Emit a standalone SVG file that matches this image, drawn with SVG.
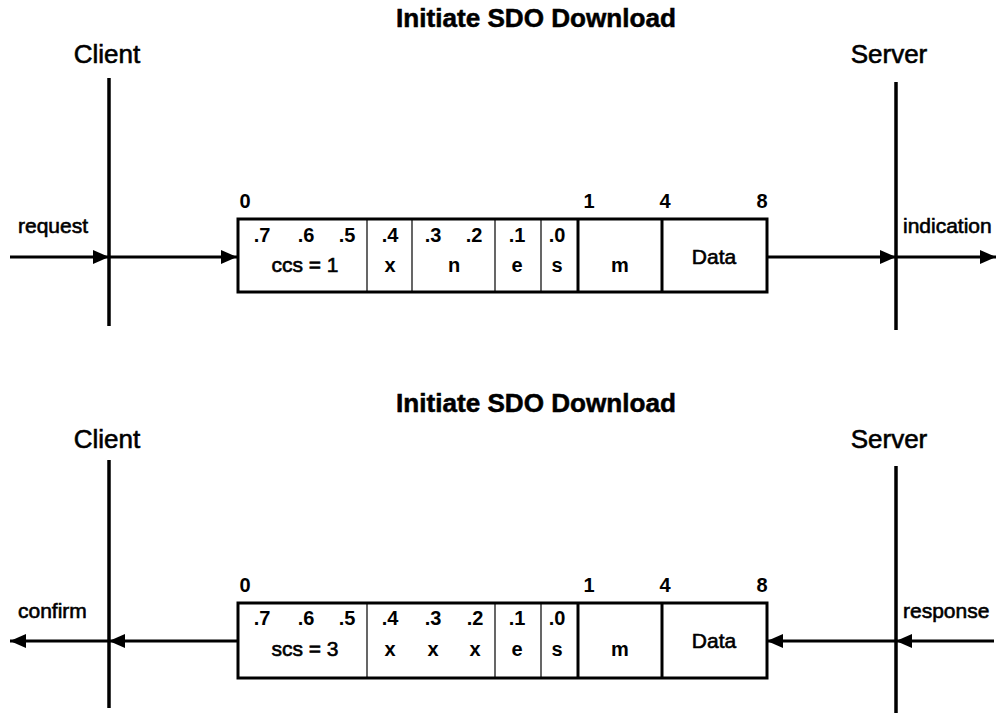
<svg xmlns="http://www.w3.org/2000/svg" width="1000" height="713" viewBox="0 0 1000 713">
<style>
text{font-family:"Liberation Sans",Arial,sans-serif;fill:#000}
.title{font-size:25px;font-weight:bold;text-anchor:middle;stroke:#000;stroke-width:0.5}
.party{font-size:26px;text-anchor:middle;stroke:#000;stroke-width:0.6}
.side{font-size:21px;stroke:#000;stroke-width:0.6}
.f{font-size:20px;font-weight:bold;text-anchor:middle}
.d{font-size:21px;text-anchor:middle;stroke:#000;stroke-width:0.6}
.life{stroke:#000;stroke-width:3.5;fill:none}
.box{stroke:#000;stroke-width:3;fill:#fff}
.thin{stroke:#000;stroke-width:1.2}
.thick{stroke:#000;stroke-width:3}
.arr{stroke:#000;stroke-width:3;fill:none}
</style>
<defs>
<marker id="ah" viewBox="0 0 16 14" refX="16" refY="7" markerWidth="16" markerHeight="14" markerUnits="userSpaceOnUse" orient="auto">
<path d="M0,0 L16,7 L0,14 Z" fill="#000"/>
</marker>
</defs>

<g id="top-title"><text class="title" x="536" y="27" textLength="280" lengthAdjust="spacingAndGlyphs">Initiate SDO Download</text></g>
<g id="top-client"><text class="party" x="107" y="63">Client</text><line class="life" x1="109" y1="78" x2="109" y2="326"/></g>
<g id="top-server"><text class="party" x="889" y="63">Server</text><line class="life" x1="896" y1="82" x2="896" y2="330"/></g>

<g id="top-frame">
<rect class="box" x="238" y="219" width="529" height="73"/>
<line class="thin" x1="367" y1="219" x2="367" y2="292"/>
<line class="thin" x1="412" y1="219" x2="412" y2="292"/>
<line class="thin" x1="495" y1="219" x2="495" y2="292"/>
<line class="thin" x1="541" y1="219" x2="541" y2="292"/>
<line class="thick" x1="578" y1="219" x2="578" y2="292"/>
<line class="thick" x1="662" y1="219" x2="662" y2="292"/>
<text class="f" x="245" y="208">0</text>
<text class="f" x="589" y="208">1</text>
<text class="f" x="665" y="208">4</text>
<text class="f" x="762" y="208">8</text>
<text class="f" x="262" y="242">.7</text>
<text class="f" x="306" y="242">.6</text>
<text class="f" x="347" y="242">.5</text>
<text class="f" x="390" y="242">.4</text>
<text class="f" x="433" y="242">.3</text>
<text class="f" x="474" y="242">.2</text>
<text class="f" x="517" y="242">.1</text>
<text class="f" x="557" y="242">.0</text>
<text class="d" x="305" y="272">ccs = 1</text>
<text class="f" x="390" y="272">x</text>
<text class="f" x="454" y="272">n</text>
<text class="f" x="517" y="272">e</text>
<text class="f" x="557" y="272">s</text>
<text class="f" x="620" y="272">m</text>
<text class="d" x="714" y="264">Data</text>
</g>

<g id="top-labels">
<text class="side" x="18" y="233">request</text>
<text class="side" x="903" y="233">indication</text>
</g>

<g id="bottom-title"><text class="title" x="536" y="412" textLength="280" lengthAdjust="spacingAndGlyphs">Initiate SDO Download</text></g>
<g id="bottom-client"><text class="party" x="107" y="448">Client</text><line class="life" x1="109" y1="460" x2="109" y2="708"/></g>
<g id="bottom-server"><text class="party" x="889" y="448">Server</text><line class="life" x1="896" y1="466" x2="896" y2="713"/></g>

<g id="bottom-frame">
<rect class="box" x="238" y="603" width="529" height="75"/>
<line class="thin" x1="367" y1="603" x2="367" y2="678"/>
<line class="thin" x1="495" y1="603" x2="495" y2="678"/>
<line class="thin" x1="541" y1="603" x2="541" y2="678"/>
<line class="thick" x1="578" y1="603" x2="578" y2="678"/>
<line class="thick" x1="662" y1="603" x2="662" y2="678"/>
<text class="f" x="245" y="592">0</text>
<text class="f" x="589" y="592">1</text>
<text class="f" x="665" y="592">4</text>
<text class="f" x="762" y="592">8</text>
<text class="f" x="262" y="625">.7</text>
<text class="f" x="306" y="625">.6</text>
<text class="f" x="347" y="625">.5</text>
<text class="f" x="390" y="625">.4</text>
<text class="f" x="433" y="625">.3</text>
<text class="f" x="475" y="625">.2</text>
<text class="f" x="517" y="625">.1</text>
<text class="f" x="557" y="625">.0</text>
<text class="d" x="305" y="656">scs = 3</text>
<text class="f" x="390" y="656">x</text>
<text class="f" x="433" y="656">x</text>
<text class="f" x="475" y="656">x</text>
<text class="f" x="517" y="656">e</text>
<text class="f" x="557" y="656">s</text>
<text class="f" x="620" y="656">m</text>
<text class="d" x="714" y="648">Data</text>
</g>

<g id="bottom-labels">
<text class="side" x="18" y="618">confirm</text>
<text class="side" x="903" y="618">response</text>
</g>

<g id="connectors">
<line class="arr" x1="10" y1="257" x2="109" y2="257" marker-end="url(#ah)"/>
<line class="arr" x1="109" y1="257" x2="237" y2="257" marker-end="url(#ah)"/>
<line class="arr" x1="767" y1="257" x2="896" y2="257" marker-end="url(#ah)"/>
<line class="arr" x1="896" y1="257" x2="996" y2="257" marker-end="url(#ah)"/>
<line class="arr" x1="237" y1="641" x2="109" y2="641" marker-end="url(#ah)"/>
<line class="arr" x1="109" y1="641" x2="10" y2="641" marker-end="url(#ah)"/>
<line class="arr" x1="994" y1="641" x2="896" y2="641" marker-end="url(#ah)"/>
<line class="arr" x1="896" y1="641" x2="767" y2="641" marker-end="url(#ah)"/>
</g>
</svg>
